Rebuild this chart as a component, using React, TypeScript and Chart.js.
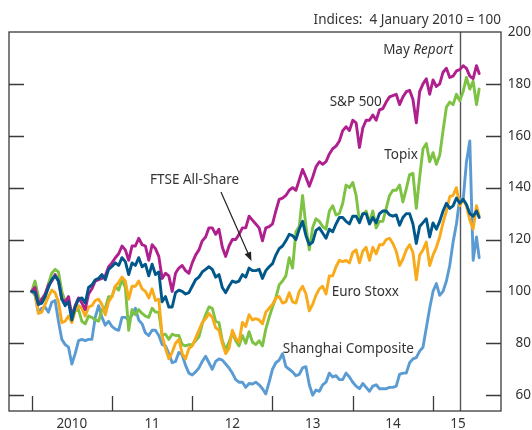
import React, { useEffect, useRef } from 'react';
import { Chart, registerables } from 'chart.js';

Chart.register(...registerables);

// ---- Data: semi-monthly observations, Jan 2010 – late Jul 2015 (index, 4 Jan 2010 = 100)
const START_YEAR = 2010;
const OBS_PER_YEAR = 24;
const LAST_DATE = 2015.575;

const SP500 = [
  100, 101.5, 95, 97, 99, 102.5, 104, 106.5, 104, 97, 96, 98, 90.5, 94.5, 97.5, 95.5, 93, 99, 101, 104, 104.5, 105, 106, 109.5,
  111, 113, 114.5, 117.5, 116, 112, 117.5, 117.5, 120.5, 118, 117.5, 112, 118, 116.5, 113.5, 105, 107, 106, 100, 107, 109, 110, 108, 107,
  111, 114, 116, 119.5, 121, 124.5, 124.5, 122, 124, 117, 113.5, 117.5, 120, 120, 122, 124.5, 124.5, 129, 127.5, 126, 124.5, 119.5, 124.5, 125,
  126, 131, 135.5, 136, 137, 139, 140, 139, 143, 147, 144, 140.5, 144, 148, 150, 149, 150, 153, 155, 156, 158, 162, 163.5, 162,
  166, 165, 155.5, 163, 166, 166, 168, 166, 170, 170.5, 173, 175, 175.5, 176, 172, 175, 177, 177.5, 174, 165, 177, 180, 182, 176,
  181.5, 179, 180, 184.5, 186, 182.5, 183, 185, 185.5, 187, 186, 183, 182, 187, 184,
];

const TOPIX = [
  100, 104, 98, 95.5, 97.5, 103, 107, 108.5, 107.5, 100, 96, 96.5, 91, 92.5, 93, 88.5, 87.5, 90.5, 90, 89, 88.5, 93, 93.5, 98,
  98, 102, 100.5, 104.5, 101.5, 85, 93, 91, 93, 91.5, 90.5, 90, 93.5, 92, 92, 83, 83.5, 81.5, 83.5, 83, 83, 79.5, 79, 79.5,
  79.5, 81, 82.5, 87.5, 91, 94, 93.5, 88.5, 88, 81, 77.5, 80.5, 84, 81, 79, 83, 80, 84.5, 80.5, 79.5, 81, 79, 85.5, 90,
  94, 97.5, 102.5, 104, 106, 113, 109, 123, 125, 137, 125, 116, 124.5, 128, 127, 125, 124, 131, 133, 129.5, 130, 134, 141, 140,
  142, 137, 127, 129.5, 131, 126.5, 131, 124.5, 127, 127, 132, 137, 139, 139, 141, 134.5, 139.5, 145, 145.5, 132, 144, 155, 157, 150,
  153.5, 149, 152.5, 162, 171, 173, 172, 176, 173.5, 177, 182.5, 178, 181, 172, 178,
];

const FTSE_ALL_SHARE = [
  100, 99.5, 95, 95.5, 98, 101.5, 104.5, 106, 104, 97, 94.5, 96, 89, 94, 97, 97.5, 95.5, 101.5, 102.5, 104.5, 105, 106.5, 104.5, 108.5,
  109.6, 111, 110, 113, 111.5, 106.5, 111, 110, 113, 109.5, 110.5, 106, 110.5, 106.5, 107.5, 96, 98, 94, 94, 99.5, 100.5, 100, 99, 99.5,
  102, 104.5, 105.5, 107.5, 108.5, 109.5, 108.5, 105.5, 106.5, 101.5, 99.5, 102, 104, 103.5, 104, 106.5, 105.5, 109, 108, 108, 108.5, 105, 108, 109.5,
  110.7, 114, 116.5, 117.5, 119.5, 122, 121.5, 120, 124, 127, 121.5, 118, 119, 123.5, 124.5, 122.5, 120.5, 124, 123, 126, 128.5, 128.5, 127, 126,
  129, 129, 126.5, 130, 130, 126, 128.5, 126.5, 130, 131, 131, 129.5, 129, 129.5, 125.5, 128.5, 130, 130, 126, 118.5, 125, 126.5, 128, 121,
  126.4, 124, 127, 131, 134, 132, 133, 136, 134, 135.5, 133.5, 130, 129, 131, 128.5,
];

const EURO_STOXX = [
  100, 99, 91.5, 92, 95, 98, 100.5, 99.5, 96, 88, 88.5, 90.5, 88, 92.5, 94.5, 93.5, 90.5, 94, 94.5, 96.5, 97, 95, 91, 96,
  98, 102, 103.5, 105.5, 104, 97, 102, 102, 104, 101, 100, 97.5, 101, 96.5, 97, 83, 78, 74, 76.5, 80, 81.5, 76, 74, 78,
  79, 82, 85, 88, 89.5, 91.5, 90, 86, 85, 80, 76, 78, 85, 82, 80.5, 88, 86.5, 91, 89, 89.5, 89, 87.5, 92, 93.5,
  95, 97.5, 98, 95.5, 96, 99.5, 96, 95.5, 100, 102, 99, 92.5, 95, 98.5, 101, 102, 99, 106, 106, 109.5, 112, 111.5, 112, 111,
  115, 116, 111, 115.5, 117, 112, 117, 114.5, 118, 118, 120, 120.5, 118.5, 115.5, 110, 112.5, 116, 118, 115, 104.5, 114, 116, 119, 110,
  114, 117, 121, 126.5, 131, 136.5, 137, 140, 133, 135.5, 133, 127.5, 124, 133, 129,
];

const SHANGHAI = [
  100, 98.5, 92, 93.5, 94, 92, 95.8, 96.5, 88.5, 81.5, 79.5, 78.5, 72, 76, 81, 81.5, 81, 81.5, 81.5, 90, 94.5, 90, 87, 88.5,
  86.5, 85.5, 85, 90, 90, 89, 91, 93.5, 89, 87.5, 84, 83, 85, 85, 83, 79.5, 79, 76, 72.5, 73, 76.5, 75.5, 71.5, 68.5,
  67.8, 69, 70.5, 73, 75, 72.5, 70, 73, 74, 73.5, 72, 70.5, 68.5, 66, 65, 65, 63, 64.5, 64.3, 65, 64, 62.5, 60.5, 65,
  70, 72.5, 73.5, 76, 71, 70, 69, 67.5, 68, 70.5, 71, 64, 60, 62, 61.5, 64, 65, 68.5, 67, 67.5, 66, 66, 68.5, 67,
  65, 63.5, 62.5, 64.5, 63, 61.5, 63.5, 64, 62.5, 62.5, 62.5, 63, 63, 63.5, 68, 68.5, 68.5, 72.5, 74, 74.5, 77, 78.5, 86, 93.5,
  100, 103, 98.5, 100, 104, 110, 119, 126, 136, 135, 150, 158, 112, 121, 113,
];

const DATES = SP500.map((_, k) => (k === SP500.length - 1 ? LAST_DATE : START_YEAR + k / OBS_PER_YEAR));

// ---- Axes
const X_MIN = 2009.717;
const X_MAX = 2015.847;
const Y_MIN = 53.9;
const Y_MAX = 200;
const Y_TICKS = [60, 80, 100, 120, 140, 160, 180, 200];
const YEAR_BOUNDARIES = [2010, 2011, 2012, 2013, 2014, 2015];
const YEAR_LABELS = ['2010', '11', '12', '13', '14', '15'];
const YEAR_LABEL_POS = [2010.5, 2011.5, 2012.5, 2013.5, 2014.5, 2015.31];
const MAY_REPORT_DATE = 2015.335;

// ---- Annotations (data coordinates)
const TITLE = 'Indices:  4 January 2010 = 100';
const SERIES_LABELS = [
  { text: 'S&P 500', x: 2014.037, y: 173.1 },
  { text: 'Topix', x: 2014.602, y: 152.6 },
  { text: 'FTSE All-Share', x: 2012.029, y: 142.9 },
  { text: 'Euro Stoxx', x: 2014.157, y: 99.9 },
  { text: 'Shanghai Composite', x: 2013.945, y: 77.6 },
];
const MAY_LABEL = { x: 2015.25, y: 193.1 };
const ARROW = { from: [2012.358, 138.3], to: [2012.738, 111.7] };

const COLORS = {
  sp: '#B01F8E',
  topix: '#7DC242',
  ftse: '#00578A',
  euro: '#F8AA1B',
  shanghai: '#5B9BD3',
};
const TEXT = '#333333';
const FRAME = '#3a3a3a';
const FONT = '"Noto Sans", "Open Sans", sans-serif';
const FS = 13.5;

const toPoints = (vals: number[]) => vals.map((v, i) => ({ x: DATES[i], y: v }));

const decor = {
  id: 'decor',
  beforeDatasetsDraw(chart: any) {
    const { ctx, chartArea: a, scales } = chart;
    const mx = Math.round(scales.x.getPixelForValue(MAY_REPORT_DATE)) + 0.5;
    ctx.save();
    ctx.strokeStyle = '#555';
    ctx.lineWidth = 1.4;
    ctx.beginPath();
    ctx.moveTo(mx, a.top);
    ctx.lineTo(mx, a.bottom);
    ctx.stroke();
    ctx.restore();
  },
  afterDatasetsDraw(chart: any) {
    const { ctx, chartArea: a, scales } = chart;
    const xs = scales.x;
    const ys = scales.y;
    ctx.save();
    // frame
    ctx.strokeStyle = FRAME;
    ctx.lineWidth = 1.3;
    ctx.strokeRect(a.left, a.top, a.right - a.left, a.bottom - a.top);
    // y tick marks (both sides, inside)
    ctx.beginPath();
    Y_TICKS.forEach((v) => {
      const py = Math.round(ys.getPixelForValue(v)) + 0.5;
      if (v >= Y_MAX) return;
      ctx.moveTo(a.left, py);
      ctx.lineTo(a.left + 15, py);
      ctx.moveTo(a.right - 15, py);
      ctx.lineTo(a.right, py);
    });
    // x tick marks at year boundaries (inside, from bottom)
    YEAR_BOUNDARIES.forEach((yr) => {
      const px = Math.round(xs.getPixelForValue(yr)) + 0.5;
      ctx.moveTo(px, a.bottom);
      ctx.lineTo(px, a.bottom - 15);
    });
    ctx.stroke();

    // title
    ctx.fillStyle = TEXT;
    ctx.font = `${FS}px ${FONT}`;
    ctx.textAlign = 'right';
    ctx.textBaseline = 'middle';
    ctx.fillText(TITLE, a.right, a.top - 12);

    // series labels
    ctx.textAlign = 'center';
    SERIES_LABELS.forEach((l) => {
      ctx.fillText(l.text, xs.getPixelForValue(l.x), ys.getPixelForValue(l.y));
    });

    // May Report label
    const rx = xs.getPixelForValue(MAY_LABEL.x);
    const ry = ys.getPixelForValue(MAY_LABEL.y);
    ctx.textAlign = 'right';
    ctx.font = `italic ${FS}px ${FONT}`;
    const rw = ctx.measureText('Report').width;
    ctx.fillText('Report', rx, ry);
    ctx.font = `${FS}px ${FONT}`;
    ctx.fillText('May ', rx - rw, ry);

    // arrow
    const x1 = xs.getPixelForValue(ARROW.from[0]);
    const y1 = ys.getPixelForValue(ARROW.from[1]);
    const x2 = xs.getPixelForValue(ARROW.to[0]);
    const y2 = ys.getPixelForValue(ARROW.to[1]);
    const ang = Math.atan2(y2 - y1, x2 - x1);
    const hl = 9;
    const hw = 3.5;
    ctx.strokeStyle = '#222';
    ctx.fillStyle = '#222';
    ctx.lineWidth = 1.2;
    ctx.beginPath();
    ctx.moveTo(x1, y1);
    ctx.lineTo(x2 - Math.cos(ang) * hl * 0.8, y2 - Math.sin(ang) * hl * 0.8);
    ctx.stroke();
    ctx.beginPath();
    ctx.moveTo(x2, y2);
    ctx.lineTo(x2 - Math.cos(ang) * hl - Math.sin(ang) * hw, y2 - Math.sin(ang) * hl + Math.cos(ang) * hw);
    ctx.lineTo(x2 - Math.cos(ang) * hl + Math.sin(ang) * hw, y2 - Math.sin(ang) * hl - Math.cos(ang) * hw);
    ctx.closePath();
    ctx.fill();
    ctx.restore();
  },
};

export default function App() {
  const ref = useRef<HTMLCanvasElement | null>(null);

  useEffect(() => {
    if (!ref.current) return;
    const line = (label: string, data: number[], color: string, order: number) => ({
      label,
      data: toPoints(data),
      borderColor: color,
      backgroundColor: color,
      borderWidth: 2.9,
      pointRadius: 0,
      tension: 0,
      borderJoinStyle: 'round' as const,
      borderCapStyle: 'round' as const,
      order,
    });
    const chart = new Chart(ref.current, {
      type: 'line',
      data: {
        datasets: [
          line('FTSE All-Share', FTSE_ALL_SHARE, COLORS.ftse, 0),
          line('S&P 500', SP500, COLORS.sp, 1),
          line('Euro Stoxx', EURO_STOXX, COLORS.euro, 2),
          line('Topix', TOPIX, COLORS.topix, 3),
          line('Shanghai Composite', SHANGHAI, COLORS.shanghai, 4),
        ],
      },
      options: {
        animation: false,
        responsive: false,
        devicePixelRatio: 1,
        layout: { padding: { left: 9, top: 32, right: 1, bottom: 0 } },
        plugins: { legend: { display: false }, tooltip: { enabled: false }, title: { display: false } },
        scales: {
          x: {
            type: 'linear',
            min: X_MIN,
            max: X_MAX,
            afterBuildTicks: (s: any) => {
              s.ticks = YEAR_LABEL_POS.map((v) => ({ value: v }));
            },
            afterFit: (s: any) => {
              s.height = 19;
            },
            grid: { display: false, drawTicks: false },
            border: { display: false },
            ticks: {
              autoSkip: false,
              maxRotation: 0,
              padding: 5,
              color: TEXT,
              font: { family: FONT, size: FS },
              callback: (_v: any, i: number) => YEAR_LABELS[i],
            },
          },
          y: {
            position: 'right',
            min: Y_MIN,
            max: Y_MAX,
            afterBuildTicks: (s: any) => {
              s.ticks = Y_TICKS.map((v) => ({ value: v }));
            },
            afterFit: (s: any) => {
              s.width = 30;
            },
            grid: { display: false, drawTicks: false },
            border: { display: false },
            ticks: {
              padding: 7,
              crossAlign: 'far',
              color: TEXT,
              font: { family: FONT, size: FS },
            },
          },
        },
      },
      plugins: [decor],
    });
    return () => chart.destroy();
  }, []);

  return (
    <div style={{ position: 'absolute', left: 0, top: 0, width: 532, height: 430, background: '#fff' }}>
      <canvas ref={ref} width={532} height={430} style={{ display: 'block' }} />
    </div>
  );
}
